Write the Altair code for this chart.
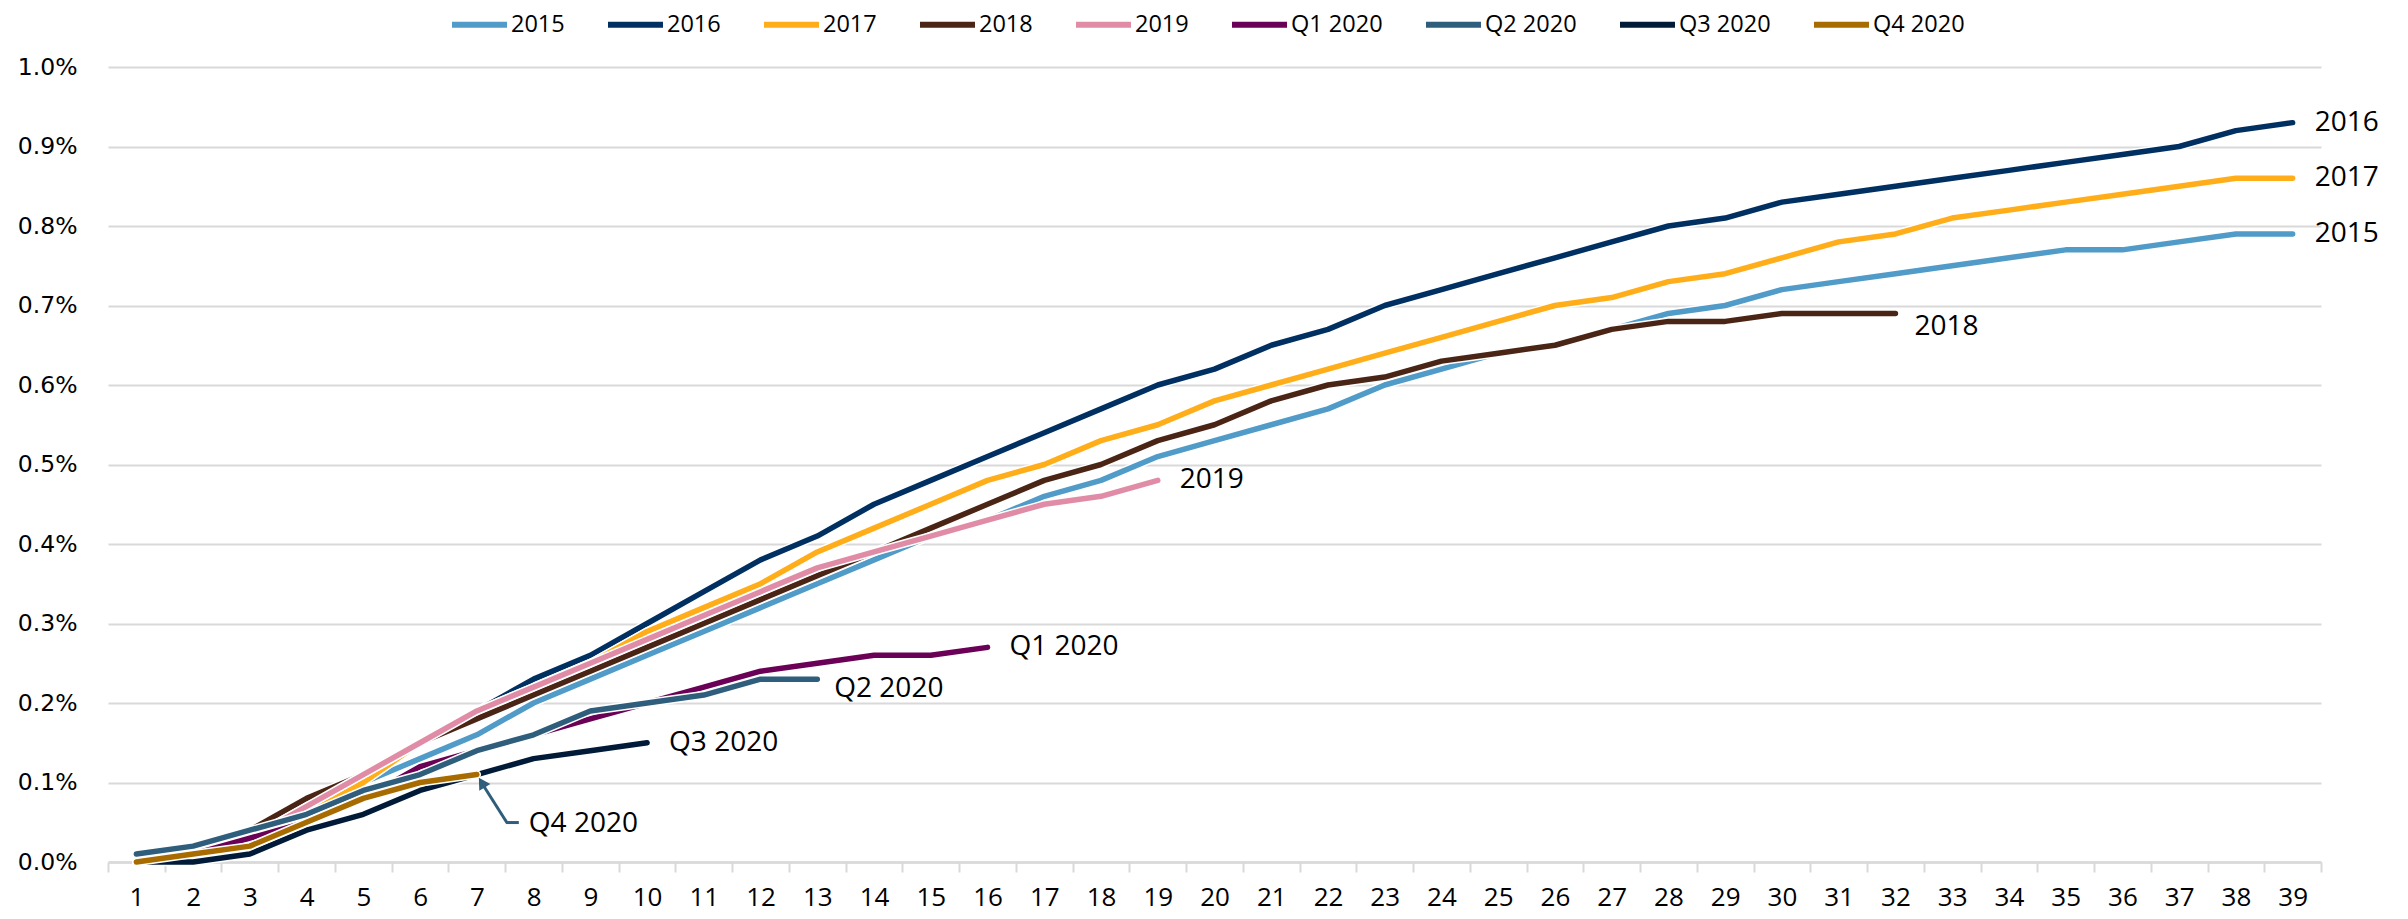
import altair as alt
import pandas as pd

series_names = ["2015", "2016", "2017", "2018", "2019", "Q1 2020", "Q2 2020", "Q3 2020", "Q4 2020"]
colors = ["#509BC7", "#003062", "#FFAE1A", "#4A2516", "#E08CA6", "#6B0057", "#2F5D7C", "#001A38", "#A86B00"]

# cumulative values in percent, by period 1..N
v2015 = [0.01, 0.02, 0.04, 0.06, 0.10, 0.13, 0.16, 0.20, 0.23, 0.26, 0.29, 0.32, 0.35, 0.38, 0.41, 0.43,
         0.46, 0.48, 0.51, 0.53, 0.55, 0.57, 0.60, 0.62, 0.64, 0.65, 0.67, 0.69, 0.70, 0.72, 0.73, 0.74,
         0.75, 0.76, 0.77, 0.77, 0.78, 0.79, 0.79]
v2016 = [0.00, 0.01, 0.03, 0.07, 0.11, 0.15, 0.19, 0.23, 0.26, 0.30, 0.34, 0.38, 0.41, 0.45, 0.48, 0.51,
         0.54, 0.57, 0.60, 0.62, 0.65, 0.67, 0.70, 0.72, 0.74, 0.76, 0.78, 0.80, 0.81, 0.83, 0.84, 0.85,
         0.86, 0.87, 0.88, 0.89, 0.90, 0.92, 0.93]
v2017 = [0.00, 0.01, 0.03, 0.06, 0.10, 0.15, 0.19, 0.22, 0.25, 0.29, 0.32, 0.35, 0.39, 0.42, 0.45, 0.48,
         0.50, 0.53, 0.55, 0.58, 0.60, 0.62, 0.64, 0.66, 0.68, 0.70, 0.71, 0.73, 0.74, 0.76, 0.78, 0.79,
         0.81, 0.82, 0.83, 0.84, 0.85, 0.86, 0.86]
v2018 = [0.00, 0.01, 0.04, 0.08, 0.11, 0.15, 0.18, 0.21, 0.24, 0.27, 0.30, 0.33, 0.36, 0.39, 0.42, 0.45,
         0.48, 0.50, 0.53, 0.55, 0.58, 0.60, 0.61, 0.63, 0.64, 0.65, 0.67, 0.68, 0.68, 0.69, 0.69, 0.69]
v2019 = [0.00, 0.01, 0.03, 0.07, 0.11, 0.15, 0.19, 0.22, 0.25, 0.28, 0.31, 0.34, 0.37, 0.39, 0.41, 0.43,
         0.45, 0.46, 0.48]
vq1 = [0.00, 0.01, 0.03, 0.05, 0.08, 0.12, 0.14, 0.16, 0.18, 0.20, 0.22, 0.24, 0.25, 0.26, 0.26, 0.27]
vq2 = [0.01, 0.02, 0.04, 0.06, 0.09, 0.11, 0.14, 0.16, 0.19, 0.20, 0.21, 0.23, 0.23]
vq3 = [0.00, 0.00, 0.01, 0.04, 0.06, 0.09, 0.11, 0.13, 0.14, 0.15]
vq4 = [0.00, 0.01, 0.02, 0.05, 0.08, 0.10, 0.11]

all_values = [v2015, v2016, v2017, v2018, v2019, vq1, vq2, vq3, vq4]
y_ticks = [i / 1000 for i in range(11)]
x_ticks = [i / 2 for i in range(1, 80)]

# label offsets (pixels) for end-of-line annotations
label_offsets = {
    "2015": (22, 0), "2016": (22, 0), "2017": (22, 0), "2018": (19, 14), "2019": (22, 0),
    "Q1 2020": (22, 0), "Q2 2020": (17, 10), "Q3 2020": (22, 0), "Q4 2020": (52, 49),
}

rows = []
for name, vals in zip(series_names, all_values):
    for i, v in enumerate(vals):
        rows.append({"period": i + 1, "value": v / 100, "series": name})
df = pd.DataFrame(rows)

last = pd.DataFrame([{"period": len(vals), "value": vals[-1] / 100, "series": name}
                     for name, vals in zip(series_names, all_values)])

grey = "#D9D9D9"
x_enc = alt.X(
    "period:Q",
    scale=alt.Scale(domain=[0.5, 39.5], nice=False, zero=False),
    axis=alt.Axis(
        title=None, values=x_ticks, grid=False,
        labelExpr="datum.value % 1 === 0 ? toString(datum.value) : ''",
        labelOverlap=False, labelFont="Open Sans", labelFontSize=26, labelColor="black",
        labelPadding=12, tickSize=10, tickColor=grey, tickWidth=2,
        tickOpacity={"condition": {"test": "datum.value % 1 === 0", "value": 0}, "value": 1},
        domainColor=grey, domainWidth=2.5,
    ),
)
y_enc = alt.Y(
    "value:Q",
    scale=alt.Scale(domain=[0, 0.01], nice=False),
    axis=alt.Axis(
        title=None, values=y_ticks, format=".1%", domain=False, ticks=False,
        gridColor=grey, gridWidth=2, labelFont="DejaVu Sans", labelFontSize=23.5,
        labelColor="black", labelPadding=31,
    ),
)
legend = alt.Legend(
    title=None, orient="none", direction="horizontal", legendX=359, legendY=-55,
    symbolType="M-3,0H3", symbolSize=336, symbolStrokeWidth=6, labelOffset=19,
    labelFont="Open Sans", labelFontSize=23.5, labelColor="black", columnPadding=31,
    padding=0,
)
color_enc = alt.Color("series:N", scale=alt.Scale(domain=series_names, range=colors), legend=legend)

base = alt.Chart(df)
layers = []
for name in series_names:
    sub = base.transform_filter(alt.datum.series == name)
    layers.append(sub.mark_line(color="white", strokeWidth=8.5, strokeCap="round", strokeJoin="round")
                  .encode(x=x_enc, y=y_enc))
    layers.append(sub.mark_line(strokeWidth=5.5, strokeCap="round", strokeJoin="round")
                  .encode(x=x_enc, y=y_enc, color=color_enc))

lbase = alt.Chart(last)
for name in series_names:
    dx, dy = label_offsets[name]
    layers.append(lbase.transform_filter(alt.datum.series == name)
                  .mark_text(align="left", baseline="middle", dx=dx, dy=dy, font="Open Sans",
                             fontSize=28, color="black")
                  .encode(x=x_enc, y=y_enc, text="series:N"))

q4 = lbase.transform_filter(alt.datum.series == "Q4 2020")
arrow_color = "#2F5D7C"
layers.append(q4.mark_rule(color=arrow_color, strokeWidth=3, xOffset=4, yOffset=7, x2Offset=30, y2Offset=48)
              .encode(x=x_enc, y=y_enc, x2="period:Q", y2="value:Q"))
layers.append(q4.mark_rule(color=arrow_color, strokeWidth=3, xOffset=29, yOffset=48, x2Offset=42, y2Offset=48)
              .encode(x=x_enc, y=y_enc, x2="period:Q", y2="value:Q"))
layers.append(q4.mark_point(shape="triangle-up", filled=True, opacity=1, color=arrow_color, size=170,
                            angle=328, xOffset=5, yOffset=8)
              .encode(x=x_enc, y=y_enc))

chart = alt.layer(*layers).properties(
    width=2213, height=795,
    padding={"left": 9, "top": 4, "right": 5, "bottom": 5},
    background="white",
).configure_view(stroke=None)

chart.save("out.html", embed_options={"renderer": "svg", "actions": False})
